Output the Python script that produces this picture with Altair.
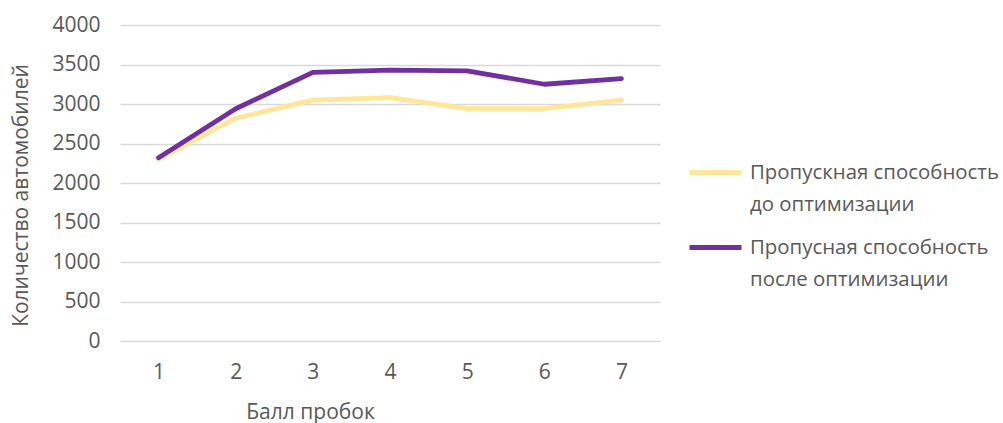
import altair as alt
import pandas as pd

# Traffic-jam score on the x axis
scores = [1, 2, 3, 4, 5, 6, 7]

# Throughput (vehicles) before and after optimisation
before = [2300, 2820, 3050, 3080, 2940, 2940, 3050]
after = [2320, 2940, 3400, 3430, 3420, 3250, 3320]

series_before = "Пропускная способность\nдо оптимизации"
series_after = "Пропусная способность\nпосле оптимизации"

rows = []
for s, b, a in zip(scores, before, after):
    rows.append({"score": s, "cars": b, "series": series_before})
    rows.append({"score": s, "cars": a, "series": series_after})
df = pd.DataFrame(rows)

FONT = "Open Sans"
TEXT = "#595959"
SIZE = 21

chart = (
    alt.Chart(df)
    .mark_line(strokeWidth=4.8, strokeCap="round", strokeJoin="round")
    .encode(
        x=alt.X(
            "score:O",
            scale=alt.Scale(type="point", padding=0.5),
            axis=alt.Axis(
                title="Балл пробок",
                labelAngle=0,
                labelPadding=20,
                ticks=False,
                domain=False,
                titleX=190,
                titleY=60,
                titleFontWeight="normal",
            ),
        ),
        y=alt.Y(
            "cars:Q",
            scale=alt.Scale(domain=[0, 4000]),
            axis=alt.Axis(
                title="Количество автомобилей",
                values=[0, 500, 1000, 1500, 2000, 2500, 3000, 3500, 4000],
                format="d",
                ticks=False,
                domain=False,
                labelPadding=20,
                titleX=-89,
                titleY=170,
                titleFontWeight="normal",
                gridColor="#D9D9D9",
                gridWidth=1.3,
            ),
        ),
        color=alt.Color(
            "series:N",
            scale=alt.Scale(
                domain=[series_before, series_after],
                range=["#FFE699", "#7030A0"],
            ),
            legend=alt.Legend(
                title=None,
                orient="none",
                legendX=567,
                legendY=119,
                symbolType="stroke",
                symbolSize=2700,
                symbolStrokeWidth=4.8,
                labelOffset=6,
                labelExpr="split(datum.label, '\\n')",
                labelFontSize=20.4,
                labelColor=TEXT,
                labelFont=FONT,
                labelLimit=400,
                rowPadding=4,
            ),
        ),
        order="score:O",
    )
    .properties(
        width=540,
        height=316,
        autosize=alt.AutoSizeParams(type="none"),
        padding={"left": 120, "top": 25, "right": 343, "bottom": 82},
    )
    .configure(style={"guide-label": {"lineHeight": 32}})
    .configure_view(stroke=None)
    .configure_axis(
        labelFont=FONT,
        titleFont=FONT,
        labelFontSize=SIZE,
        titleFontSize=SIZE,
        labelColor=TEXT,
        titleColor=TEXT,
    )
)

chart.save("out.html", embed_options={"renderer": "svg", "actions": False})
